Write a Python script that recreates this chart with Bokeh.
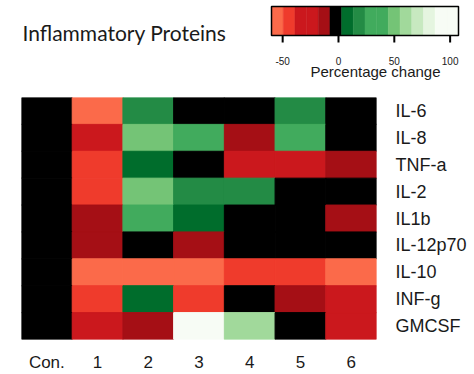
from bokeh.plotting import figure
from bokeh.models import FactorRange, Range1d, LinearColorMapper, ColumnDataSource
from bokeh.core.properties import value
from bokeh.embed import file_html
from bokeh.resources import INLINE
import numpy as np

# ---- data ----
conditions = ["Con.", "1", "2", "3", "4", "5", "6"]
proteins = ["IL-6", "IL-8", "TNF-a", "IL-2", "IL1b", "IL-12p70", "IL-10", "INF-g", "GMCSF"]

il6 = [0, -55, 18, 0, 0, 18, 0]
il8 = [0, -28, 50, 34, -12, 34, 0]
tnfa = [0, -44, 8, 0, -28, -28, -12]
il2 = [0, -44, 50, 18, 18, 0, 0]
il1b = [0, -12, 34, 8, 0, 0, -12]
il12p70 = [0, -12, 0, -12, 0, 0, 0]
il10 = [0, -55, -55, -55, -44, -44, -55]
infg = [0, -44, 8, -44, 0, -12, -28]
gmcsf = [0, -28, -12, 95, 60, 0, -28]
values = [il6, il8, tnfa, il2, il1b, il12p70, il10, infg, gmcsf]

palette = ["#fb6a4a", "#ef3b2c", "#cb181d", "#cb181d", "#a50f15", "#000000",
           "#006d2c", "#238b45", "#41ab5d", "#41ab5d", "#74c476", "#a1d99b",
           "#c7e9c0", "#e5f5e0", "#f7fcf5", "#f7fcf5"]
scale_low, scale_high = -60.0, 107.5
scale_ticks = [-50, 0, 50, 100]
scale_tick_labels = ["-50", "0", "50", "100"]
scale_title = "Percentage change"
chart_title = "Inflammatory Proteins"

TEXT = "#1a1a1a"
FONT = "Liberation Sans"

# ---- header: title + colour scale ----
W, H_TOP = 474, 97
BAR_L, BAR_R, BAR_T, BAR_B = 271, 458, 6, 35          # pixel placement of the key
ppu = (BAR_R - BAR_L) / (scale_high - scale_low)       # pixels per unit
px_to_x = lambda px: scale_low + (px - BAR_L) / ppu
ppb = BAR_B - BAR_T                                    # pixels per bar height
py_to_y = lambda py: (BAR_B - py) / ppb

top = figure(width=W, height=H_TOP,
             x_range=Range1d(px_to_x(0), px_to_x(W)),
             y_range=Range1d(py_to_y(H_TOP), py_to_y(0)),
             x_axis_type=None, y_axis_type=None,
             output_backend="svg", toolbar_location=None,
             min_border=0, min_border_left=0, min_border_right=0,
             min_border_top=0, min_border_bottom=0)
top.grid.visible = False
top.outline_line_color = None

edges = np.linspace(scale_low, scale_high, len(palette) + 1)
top.quad(left=edges[:-1], right=edges[1:], bottom=0, top=1,
         fill_color=palette, line_color=palette, line_width=0.5)
top.quad(left=[scale_low], right=[scale_high], bottom=0, top=1,
         fill_color=None, line_color="black", line_width=1.5)
top.segment(x0=scale_ticks, y0=0, x1=scale_ticks, y1=py_to_y(BAR_B + 7),
            line_color="black", line_width=2)
top.text(x=scale_ticks, y=py_to_y(60), text=scale_tick_labels,
         text_font=value(FONT), text_font_size="10px", text_color=TEXT,
         text_align="center", text_baseline="alphabetic")
top.text(x=[px_to_x(375)], y=[py_to_y(71)], text=[scale_title],
         text_font=value(FONT), text_font_size="15px", text_color=TEXT,
         text_align="center", text_baseline="alphabetic")
top.text(x=[px_to_x(22)], y=[py_to_y(32)], text=[chart_title],
         text_font=value("Lato"), text_font_size="21px", text_color=TEXT,
         text_align="left", text_baseline="alphabetic")

# ---- heatmap ----
xs, ys, vals = [], [], []
for prot, rv in zip(proteins, values):
    for c, v in zip(conditions, rv):
        xs.append(c)
        ys.append(prot)
        vals.append(v)
src = ColumnDataSource(dict(condition=xs, protein=ys, change=vals))
mapper = LinearColorMapper(palette=palette, low=scale_low, high=scale_high)

heat = figure(width=W, height=277,
              x_range=FactorRange(*conditions),
              y_range=FactorRange(*reversed(proteins)),
              y_axis_location="right",
              output_backend="svg", toolbar_location=None,
              min_border_left=21, min_border_right=98,
              min_border_top=0, min_border_bottom=27)
heat.rect(x="condition", y="protein", width=1, height=1, source=src,
          fill_color={"field": "change", "transform": mapper},
          line_color={"field": "change", "transform": mapper}, line_width=1)
heat.grid.visible = False
heat.outline_line_color = None
for ax in (heat.xaxis, heat.yaxis):
    ax.axis_line_color = None
    ax.major_tick_line_color = None
    ax.minor_tick_line_color = None
    ax.major_label_text_font = FONT
    ax.major_label_text_color = TEXT
heat.xaxis.major_label_text_font_size = "17px"
heat.yaxis.major_label_text_font_size = "18px"
heat.xaxis.major_label_standoff = 7
heat.yaxis.major_label_standoff = 13

open("out.html", "w").write(file_html([top, heat], INLINE))
